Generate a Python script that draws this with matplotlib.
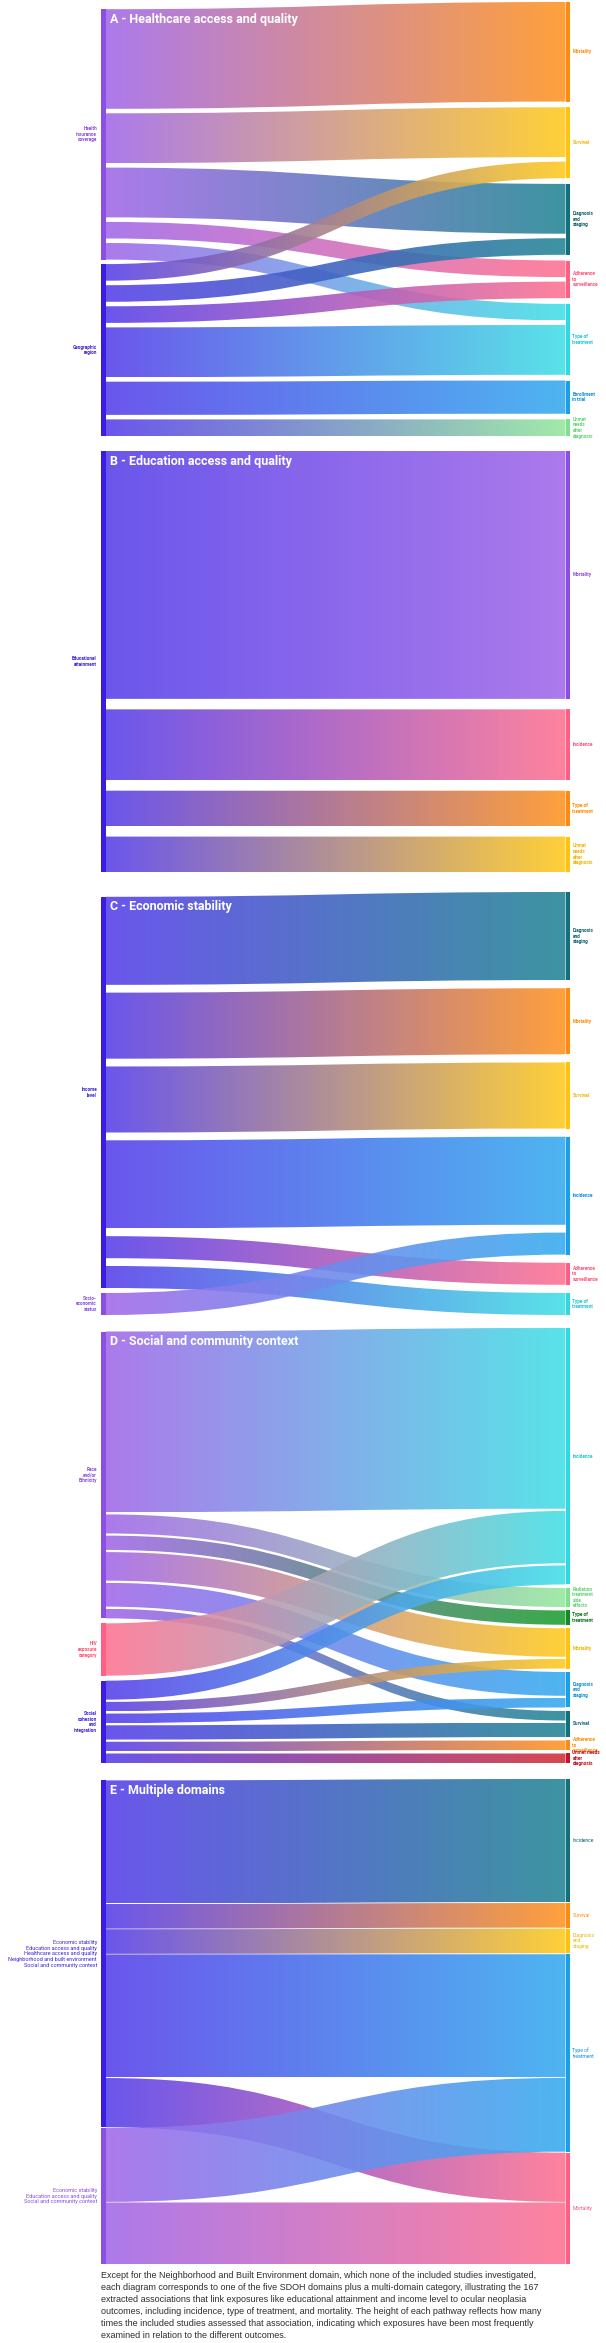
import numpy as np
import matplotlib
matplotlib.use("Agg")
import matplotlib.pyplot as plt
from matplotlib.path import Path
from matplotlib.patches import PathPatch, Rectangle
from matplotlib.colors import to_rgb
from matplotlib import font_manager

# pick a narrow face for titles / node labels if one is installed
_names = {f.name for f in font_manager.fontManager.ttflist}
NARROW = 'Liberation Sans Narrow' if 'Liberation Sans Narrow' in _names else 'Roboto'

# palette: (link colour, node bar colour, label colour)
PAL = {
    'purple': ('#a36be9', '#8c4fe6', '#8a4de0'),
    'indigo': ('#5a43ea', '#3a1de2', '#3b24d8'),
    'orange': ('#ff9626', '#ff8a12', '#ff8a00'),
    'yellow': ('#ffcb22', '#ffc20e', '#f0b400'),
    'teal':   ('#278896', '#12707c', '#0d5f6b'),
    'pink':   ('#ff7593', '#ff5f84', '#ff4f74'),
    'cyan':   ('#46e0e6', '#2fd8e2', '#1ec6d6'),
    'blue':   ('#3aadf0', '#18a0ea', '#0f8ee0'),
    'mint':   ('#96e89f', '#80e18c', '#5fd572'),
    'green':  ('#22a033', '#118b22', '#0b7417'),
    'red':    ('#d3333c', '#c8132b', '#c0101f'),
}

# ---- A - Healthcare access and quality
a_left = ['Health\ninsurance\ncoverage', 'Geographic\nregion']
a_left_col = ['purple', 'indigo']
a_right = ['Mortality', 'Survival', 'Diagnosis\nand\nstaging', 'Adherence\nto\nsurveillance',
           'Type of\ntreatment', 'Enrollment\nin trial', 'Unmet\nneeds\nafter\ndiagnosis']
a_right_col = ['orange', 'yellow', 'teal', 'pink', 'cyan', 'blue', 'mint']
a_src = [0, 0, 0, 0, 0, 1, 1, 1, 1, 1, 1]
a_tgt = [0, 1, 2, 3, 4, 1, 2, 3, 4, 5, 6]
a_val = [6, 3, 3, 1, 1, 1, 1, 1, 3, 2, 1]

# ---- B - Education access and quality
b_left = ['Educational\nattainment']
b_left_col = ['indigo']
b_right = ['Mortality', 'Incidence', 'Type of\ntreatment', 'Unmet\nneeds\nafter\ndiagnosis']
b_right_col = ['purple', 'pink', 'orange', 'yellow']
b_src = [0, 0, 0, 0]
b_tgt = [0, 1, 2, 3]
b_val = [7, 2, 1, 1]

# ---- C - Economic stability
c_left = ['Income\nlevel', 'Socio-\neconomic\nstatus']
c_left_col = ['indigo', 'purple']
c_right = ['Diagnosis\nand\nstaging', 'Mortality', 'Survival', 'Incidence',
           'Adherence\nto\nsurveillance', 'Type of\ntreatment']
c_right_col = ['teal', 'orange', 'yellow', 'blue', 'pink', 'cyan']
c_src = [0, 0, 0, 0, 0, 0, 1]
c_tgt = [0, 1, 2, 3, 4, 5, 3]
c_val = [4, 3, 3, 4, 1, 1, 1]

# ---- D - Social and community context
d_left = ['Race\nand/or\nEthnicity', 'HIV\nexposure\ncategory', 'Social\ncohesion\nand\nintegration']
d_left_col = ['purple', 'pink', 'indigo']
d_right = ['Incidence', 'Radiation\ntreatment\nside\neffects', 'Type of\ntreatment', 'Mortality',
           'Diagnosis\nand\nstaging', 'Survival', 'Adherence\nto\nsurveillance',
           'Unmet needs\nafter\ndiagnosis']
d_right_col = ['cyan', 'mint', 'green', 'yellow', 'blue', 'teal', 'orange', 'red']
d_src = [0, 0, 0, 0, 0, 0, 1, 2, 2, 2, 2, 2, 2]
d_tgt = [0, 1, 2, 3, 4, 5, 0, 0, 3, 4, 5, 6, 7]
d_val = [38, 4, 3, 6, 5, 2, 11, 4, 2, 2, 3, 2, 2]

# ---- E - Multiple domains
e_left = ['Economic stability\nEducation access and quality\nHealthcare access and quality\n'
          'Neighborhood and built environment\nSocial and community context',
          'Economic stability\nEducation access and quality\nSocial and community context']
e_left_col = ['indigo', 'purple']
e_right = ['Incidence', 'Survival', 'Diagnosis\nand\nstaging', 'Type of\ntreatment', 'Mortality']
e_right_col = ['teal', 'orange', 'yellow', 'blue', 'pink']
e_src = [0, 0, 0, 0, 0, 1, 1]
e_tgt = [0, 1, 2, 3, 4, 3, 4]
e_val = [10, 2, 2, 10, 4, 6, 5]

caption = ("Except for the Neighborhood and Built Environment domain, which none of the included studies investigated,\n"
           "each diagram corresponds to one of the five SDOH domains plus a multi-domain category, illustrating the 167\n"
           "extracted associations that link exposures like educational attainment and income level to ocular neoplasia\n"
           "outcomes, including incidence, type of treatment, and mortality. The height of each pathway reflects how many\n"
           "times the included studies assessed that association, indicating which exposures have been most frequently\n"
           "examined in relation to the different outcomes.")

XL0, XL1 = 101.0, 105.5   # left node bar
XR0, XR1 = 565.5, 570.0   # right node bar


def layout(src, tgt, val, n_left, n_right, top, bottom, gap, pad_r, pad_l):
    src = np.asarray(src); tgt = np.asarray(tgt); val = np.asarray(val, float)
    k_r = [int(np.sum(tgt == j)) for j in range(n_right)]
    k_l = [int(np.sum(src == i)) for i in range(n_left)]
    fixed_r = gap * sum(k - 1 for k in k_r) + pad_r * (n_right - 1)
    u = (bottom - top - fixed_r) / val.sum()
    right_span, right_pos = [], {}
    y = top
    for j in range(n_right):
        idx = sorted(np.where(tgt == j)[0], key=lambda i: src[i])
        y_start = y
        for n, i in enumerate(idx):
            right_pos[i] = (y, y + val[i] * u)
            y += val[i] * u + (gap if n < len(idx) - 1 else 0)
        right_span.append((y_start, y))
        y += pad_r
    # left column is bottom aligned with the right one
    left_total = val.sum() * u + gap * sum(k - 1 for k in k_l) + pad_l * (n_left - 1)
    left_span, left_pos = [], {}
    y = bottom - left_total
    for i0 in range(n_left):
        idx = sorted(np.where(src == i0)[0], key=lambda i: tgt[i])
        y_start = y
        for n, i in enumerate(idx):
            left_pos[i] = (y, y + val[i] * u)
            y += val[i] * u + (gap if n < len(idx) - 1 else 0)
        left_span.append((y_start, y))
        y += pad_l
    return left_span, right_span, left_pos, right_pos


def draw_link(ax, y0a, y0b, y1a, y1b, c0, c1, alpha=0.9):
    '''band between two nodes, filled with a left-to-right colour gradient'''
    x0, x1 = XL1, XR0
    xm = (x0 + x1) / 2
    verts = [(x0, y0a), (xm, y0a), (xm, y1a), (x1, y1a),
             (x1, y1b), (xm, y1b), (xm, y0b), (x0, y0b), (x0, y0a)]
    codes = [Path.MOVETO, Path.CURVE4, Path.CURVE4, Path.CURVE4,
             Path.LINETO, Path.CURVE4, Path.CURVE4, Path.CURVE4, Path.CLOSEPOLY]
    patch = PathPatch(Path(verts, codes), facecolor='none', edgecolor='none')
    ax.add_patch(patch)
    t = np.linspace(0, 1, 256)[:, None]
    rgb = (1 - t) * np.array(to_rgb(c0)) + t * np.array(to_rgb(c1))
    img = np.concatenate([rgb, np.full((256, 1), alpha)], axis=1)[None, :, :]
    im = ax.imshow(img, extent=(x0, x1, max(y0b, y1b), min(y0a, y1a)),
                   aspect='auto', interpolation='bilinear', zorder=1)
    im.set_clip_path(patch)


def draw_panel(ax, title, left, left_col, right, right_col, src, tgt, val,
               top, bottom, gap, pad_r, pad_l, lab_size=3.4, lab_weight='bold',
               left_size=None):
    ls, rs, lp, rp = layout(src, tgt, val, len(left), len(right),
                            top, bottom, gap, pad_r, pad_l)
    for i in range(len(val)):
        draw_link(ax, lp[i][0], lp[i][1], rp[i][0], rp[i][1],
                  PAL[left_col[src[i]]][0], PAL[right_col[tgt[i]]][0])
    for name, col, (ya, yb) in zip(left, left_col, ls):
        ax.add_patch(Rectangle((XL0, ya), XL1 - XL0, yb - ya, color=PAL[col][1], zorder=3, lw=0))
        ax.text(XL0 - 4, (ya + yb) / 2, name, ha='right', va='center', color=PAL[col][2],
                fontsize=left_size or lab_size, fontweight=lab_weight, family=[NARROW, 'DejaVu Sans'],
                linespacing=1.15, zorder=4)
    for name, col, (ya, yb) in zip(right, right_col, rs):
        ax.add_patch(Rectangle((XR0, ya), XR1 - XR0, yb - ya, color=PAL[col][1], zorder=3, lw=0))
        ax.text(XR1 + 2.5, (ya + yb) / 2, name, ha='left', va='center', color=PAL[col][2],
                fontsize=lab_size, fontweight=lab_weight, family=[NARROW, 'DejaVu Sans'],
                linespacing=1.15, zorder=4)
    ax.text(XL1 + 4, ls[0][0] + 10, title, ha='left', va='center', color='white',
            fontsize=9, fontweight='bold', family=[NARROW, 'DejaVu Sans'], zorder=5)


fig = plt.figure(figsize=(6.06, 23.43), dpi=100)
ax = fig.add_axes([0, 0, 1, 1])

draw_panel(ax, 'A - Healthcare access and quality', a_left, a_left_col, a_right, a_right_col,
           a_src, a_tgt, a_val, 2, 436, 4.5, 5.7, 4.5)
draw_panel(ax, 'B - Education access and quality', b_left, b_left_col, b_right, b_right_col,
           b_src, b_tgt, b_val, 451, 872, 10.5, 10.5, 0)
draw_panel(ax, 'C - Economic stability', c_left, c_left_col, c_right, c_right_col,
           c_src, c_tgt, c_val, 892, 1315, 7.8, 8.2, 5)
draw_panel(ax, 'D - Social and community context', d_left, d_left_col, d_right, d_right_col,
           d_src, d_tgt, d_val, 1328, 1763, 2.2, 3.5, 5)
draw_panel(ax, 'E - Multiple domains', e_left, e_left_col, e_right, e_right_col,
           e_src, e_tgt, e_val, 1779, 2264, 0.6, 1.0, 0.8, lab_size=3.6,
           lab_weight='normal', left_size=4.0)

ax.text(XL0, 2271, caption, ha='left', va='top', color='#2e2e2e', fontsize=6.5,
        family=['Liberation Sans', 'DejaVu Sans'], linespacing=1.42)

ax.set_xlim(0, 606)
ax.set_ylim(2343, 0)
ax.axis('off')
fig.savefig('out.png', dpi=100)
